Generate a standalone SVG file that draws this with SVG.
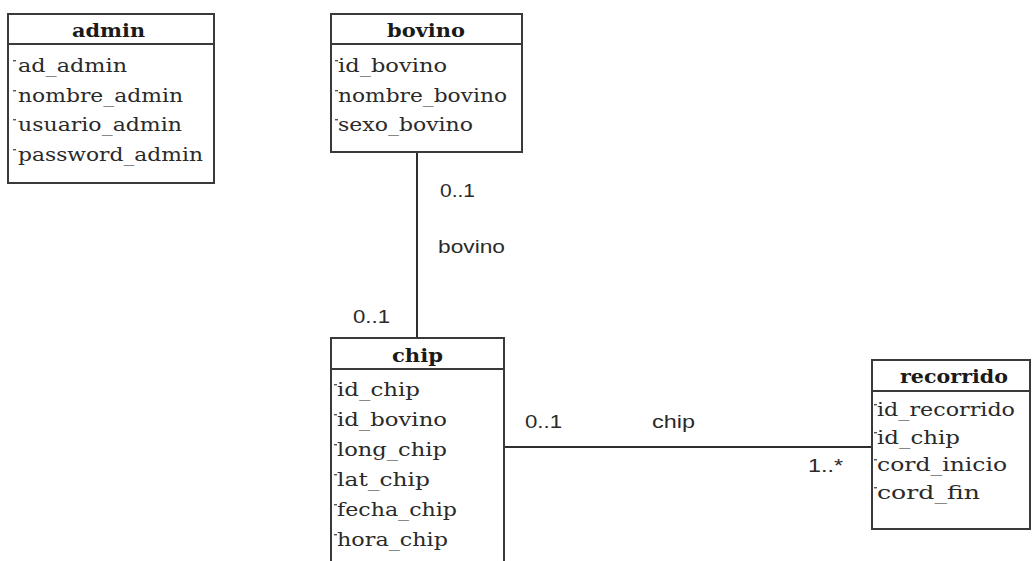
<svg xmlns="http://www.w3.org/2000/svg" xmlns:xlink="http://www.w3.org/1999/xlink" width="1032" height="561" viewBox="0 0 1032 561">
  <style>
    .box { fill: #ffffff; stroke: #3a3a3a; stroke-width: 2; }
    .sep { stroke: #3a3a3a; stroke-width: 2; }
    .title { font-family: "DejaVu Serif", "Liberation Serif", serif; font-weight: bold; font-size: 19px; fill: #1a1a1a; }
    .attr { font-family: "DejaVu Serif", "Liberation Serif", serif; font-size: 19px; fill: #2a2a2a; }
    .lbl { font-family: "Liberation Sans", Arial, sans-serif; font-size: 18px; fill: #2a2a2a; }
    .edge { stroke: #2e2e2e; stroke-width: 2; fill: none; }
    .vis { fill: #555555; }
  </style>
  <defs>
    <!-- visibility tick drawn before each attribute name -->
    <rect id="vis" class="vis" x="0" y="0" width="3" height="1.4"/>
  </defs>
  <rect width="1032" height="561" fill="#ffffff"/>

  <!-- associations -->
  <g id="connectors">
    <line class="edge" x1="417" y1="152" x2="417" y2="338"/>
    <line class="edge" x1="504" y1="447" x2="872" y2="447"/>
    <text class="lbl" x="440" y="197" textLength="35" lengthAdjust="spacingAndGlyphs">0..1</text>
    <text class="lbl" x="438" y="253" textLength="67" lengthAdjust="spacingAndGlyphs">bovino</text>
    <text class="lbl" x="353" y="323" textLength="37" lengthAdjust="spacingAndGlyphs">0..1</text>
    <text class="lbl" x="525" y="428" textLength="37" lengthAdjust="spacingAndGlyphs">0..1</text>
    <text class="lbl" x="652" y="428" textLength="43" lengthAdjust="spacingAndGlyphs">chip</text>
    <text class="lbl" x="808" y="472" textLength="35" lengthAdjust="spacingAndGlyphs">1..*</text>
  </g>

  <g id="admin">
    <rect class="box" x="8" y="14" width="206" height="169"/>
    <line class="sep" x1="8" y1="44" x2="214" y2="44"/>
    <text class="title" x="72" y="37" textLength="73" lengthAdjust="spacingAndGlyphs">admin</text>
    <use xlink:href="#vis" x="13" y="60"/>
    <text class="attr" x="18" y="72" textLength="109" lengthAdjust="spacingAndGlyphs">ad_admin</text>
    <use xlink:href="#vis" x="13" y="90"/>
    <text class="attr" x="18" y="102" textLength="165" lengthAdjust="spacingAndGlyphs">nombre_admin</text>
    <use xlink:href="#vis" x="13" y="119"/>
    <text class="attr" x="18" y="131" textLength="164" lengthAdjust="spacingAndGlyphs">usuario_admin</text>
    <use xlink:href="#vis" x="13" y="149"/>
    <text class="attr" x="18" y="161" textLength="185" lengthAdjust="spacingAndGlyphs">password_admin</text>
  </g>

  <g id="bovino">
    <rect class="box" x="331" y="14" width="191" height="138"/>
    <line class="sep" x1="331" y1="44" x2="522" y2="44"/>
    <text class="title" x="387" y="37" textLength="78" lengthAdjust="spacingAndGlyphs">bovino</text>
    <use xlink:href="#vis" x="335" y="60"/>
    <text class="attr" x="338" y="72" textLength="109" lengthAdjust="spacingAndGlyphs">id_bovino</text>
    <use xlink:href="#vis" x="335" y="90"/>
    <text class="attr" x="338" y="102" textLength="169" lengthAdjust="spacingAndGlyphs">nombre_bovino</text>
    <use xlink:href="#vis" x="335" y="119"/>
    <text class="attr" x="338" y="131" textLength="135" lengthAdjust="spacingAndGlyphs">sexo_bovino</text>
  </g>

  <g id="chip">
    <rect class="box" x="331" y="338" width="173" height="260"/>
    <line class="sep" x1="331" y1="369" x2="504" y2="369"/>
    <text class="title" x="392" y="362" textLength="51" lengthAdjust="spacingAndGlyphs">chip</text>
    <use xlink:href="#vis" x="334" y="384"/>
    <text class="attr" x="337" y="396" textLength="83" lengthAdjust="spacingAndGlyphs">id_chip</text>
    <use xlink:href="#vis" x="334" y="414"/>
    <text class="attr" x="337" y="426" textLength="110" lengthAdjust="spacingAndGlyphs">id_bovino</text>
    <use xlink:href="#vis" x="334" y="444"/>
    <text class="attr" x="337" y="456" textLength="110" lengthAdjust="spacingAndGlyphs">long_chip</text>
    <use xlink:href="#vis" x="334" y="474"/>
    <text class="attr" x="337" y="486" textLength="93" lengthAdjust="spacingAndGlyphs">lat_chip</text>
    <use xlink:href="#vis" x="334" y="504"/>
    <text class="attr" x="337" y="516" textLength="120" lengthAdjust="spacingAndGlyphs">fecha_chip</text>
    <use xlink:href="#vis" x="334" y="534"/>
    <text class="attr" x="337" y="546" textLength="111" lengthAdjust="spacingAndGlyphs">hora_chip</text>
  </g>

  <g id="recorrido">
    <rect class="box" x="872" y="360" width="158" height="169"/>
    <line class="sep" x1="872" y1="391" x2="1030" y2="391"/>
    <text class="title" x="900" y="383" textLength="108" lengthAdjust="spacingAndGlyphs">recorrido</text>
    <use xlink:href="#vis" x="874" y="404"/>
    <text class="attr" x="877" y="416" textLength="138" lengthAdjust="spacingAndGlyphs">id_recorrido</text>
    <use xlink:href="#vis" x="874" y="432"/>
    <text class="attr" x="877" y="444" textLength="83" lengthAdjust="spacingAndGlyphs">id_chip</text>
    <use xlink:href="#vis" x="874" y="459"/>
    <text class="attr" x="877" y="471" textLength="130" lengthAdjust="spacingAndGlyphs">cord_inicio</text>
    <use xlink:href="#vis" x="874" y="487"/>
    <text class="attr" x="877" y="499" textLength="103" lengthAdjust="spacingAndGlyphs">cord_fin</text>
  </g>
</svg>
